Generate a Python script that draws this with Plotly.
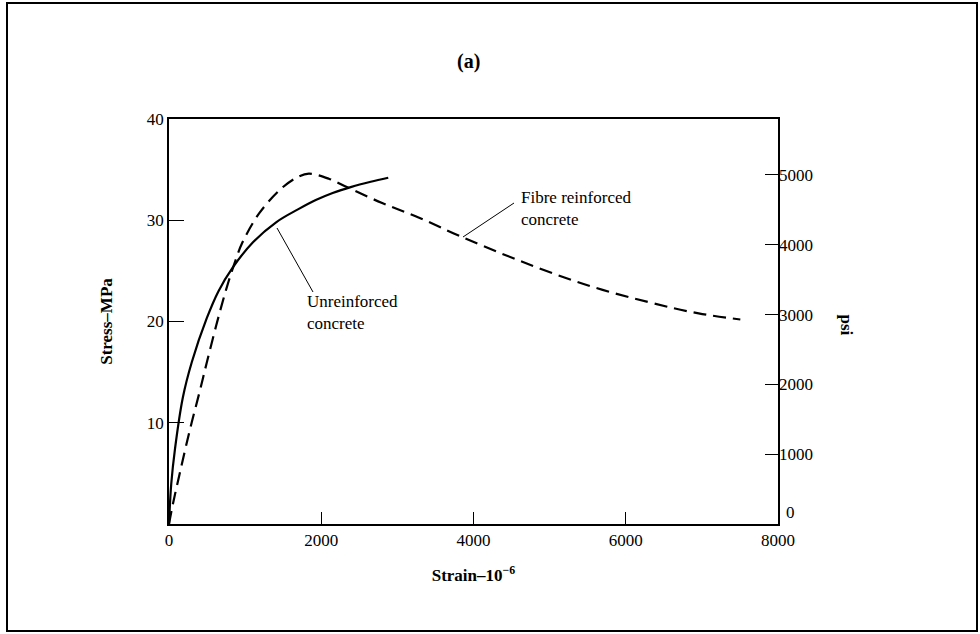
import plotly.graph_objects as go

# Data (strain in 1e-6, stress in MPa)
unreinf_strain = [0, 30, 80, 182, 300, 495, 650, 834, 1100, 1407, 1700, 1928, 2150, 2397, 2650, 2880]
unreinf_stress = [0, 4.0, 7.5, 12.5, 16.0, 20.3, 23.0, 25.3, 27.8, 29.8, 31.1, 32.0, 32.7, 33.3, 33.8, 34.2]

fibre_strain = [0, 52, 150, 274, 400, 495, 620, 756, 886, 964, 1186, 1485, 1700, 1837, 2100, 2358, 2800, 3270, 3831, 4573, 5446, 6306, 6958, 7505]
fibre_stress = [0, 2.0, 5.3, 9.3, 13.0, 15.9, 19.6, 23.3, 26.3, 27.8, 30.7, 33.2, 34.3, 34.6, 34.1, 33.2, 31.7, 30.3, 28.4, 26.1, 23.7, 21.9, 20.8, 20.2]

x_ticks = [0, 2000, 4000, 6000, 8000]
mpa_ticks = [10, 20, 30, 40]
psi_ticks = [0, 1000, 2000, 3000, 4000, 5000]
psi_labels = ["", "1000", "2000", "3000", "4000", "5000"]
MPA_TO_PSI = 145.038

SERIF = "Liberation Serif"

# plot area pixel geometry
L, R, T, B = 169, 778, 119, 524
W, H = 980, 634
pw, ph = R - L, B - T


def px(x):
    return (x - L) / pw


def py(y):
    return (B - y) / ph


fig = go.Figure()
fig.add_trace(go.Scatter(x=unreinf_strain, y=unreinf_stress, mode="lines",
                         line=dict(color="black", width=2.2, shape="spline", smoothing=1.0),
                         showlegend=False))
fig.add_trace(go.Scatter(x=fibre_strain, y=fibre_stress, mode="lines",
                         line=dict(color="black", width=2.2, dash="13px,7px", shape="spline", smoothing=1.0),
                         showlegend=False))
# invisible trace to activate y2
fig.add_trace(go.Scatter(x=[0], y=[0], yaxis="y2", mode="markers",
                         marker=dict(opacity=0), showlegend=False, hoverinfo="skip"))

fig.update_layout(
    width=W, height=H,
    margin=dict(l=L, r=W - R, t=T, b=H - B),
    paper_bgcolor="white", plot_bgcolor="white",
    font=dict(family=SERIF, size=17, color="black"),
    xaxis=dict(range=[0, 8000], tickvals=x_ticks, ticks="inside", ticklen=12,
               tickcolor="black", linecolor="black", linewidth=1.8, mirror=True,
               showline=True, showgrid=False, zeroline=False,
               tickfont=dict(family=SERIF, size=17),
               title=dict(text="<b>Strain–10<sup>−6</sup></b>", standoff=20,
                          font=dict(family=SERIF, size=17))),
    yaxis=dict(range=[0, 40], tickvals=mpa_ticks, ticks="inside", ticklen=15,
               tickcolor="black", linecolor="black", linewidth=1.8, mirror=True,
               showline=True, showgrid=False, zeroline=False,
               tickfont=dict(family=SERIF, size=17),
               title=dict(text="<b>Stress–MPa</b>", standoff=30,
                          font=dict(family=SERIF, size=17))),
    yaxis2=dict(range=[0, 40 * MPA_TO_PSI], tickvals=psi_ticks, ticktext=psi_labels,
                overlaying="y", side="right", ticks="inside", ticklen=13,
                tickcolor="black", showline=False, showgrid=False, zeroline=False,
                tickfont=dict(family=SERIF, size=17)),
)

# psi zero label, raised above the strain 8000 label as in the original
fig.add_annotation(text="0", xref="paper", yref="y2", x=px(784), y=0,
                   xanchor="left", yanchor="bottom", showarrow=False,
                   font=dict(family=SERIF, size=17))

fig.add_annotation(text="<b>(a)</b>", xref="paper", yref="paper",
                   x=px(468), y=py(62), yanchor="middle", showarrow=False,
                   font=dict(family=SERIF, size=20))
fig.add_annotation(text="<b>psi</b>", xref="paper", yref="paper",
                   x=px(858), y=py(325), showarrow=False, textangle=90,
                   font=dict(family=SERIF, size=17))

# curve labels with leader lines
fig.add_annotation(text="Fibre reinforced<br>concrete", xref="paper", yref="paper",
                   x=px(519), y=py(208), xanchor="left", yanchor="middle",
                   align="left", showarrow=False,
                   font=dict(family=SERIF, size=17))
fig.add_annotation(text="Unreinforced<br>concrete", xref="paper", yref="paper",
                   x=px(305), y=py(312), xanchor="left", yanchor="middle",
                   align="left", showarrow=False,
                   font=dict(family=SERIF, size=17))

fig.add_shape(type="line", xref="paper", yref="paper",
              x0=px(463), y0=py(237), x1=px(514), y1=py(203),
              line=dict(color="black", width=1))
fig.add_shape(type="line", xref="paper", yref="paper",
              x0=px(277), y0=py(228), x1=px(313), y1=py(292),
              line=dict(color="black", width=1))

# outer frame
fig.add_shape(type="rect", xref="paper", yref="paper",
              x0=px(7), y0=py(631), x1=px(977), y1=py(3),
              line=dict(color="black", width=2))

fig.write_html("out.html")
